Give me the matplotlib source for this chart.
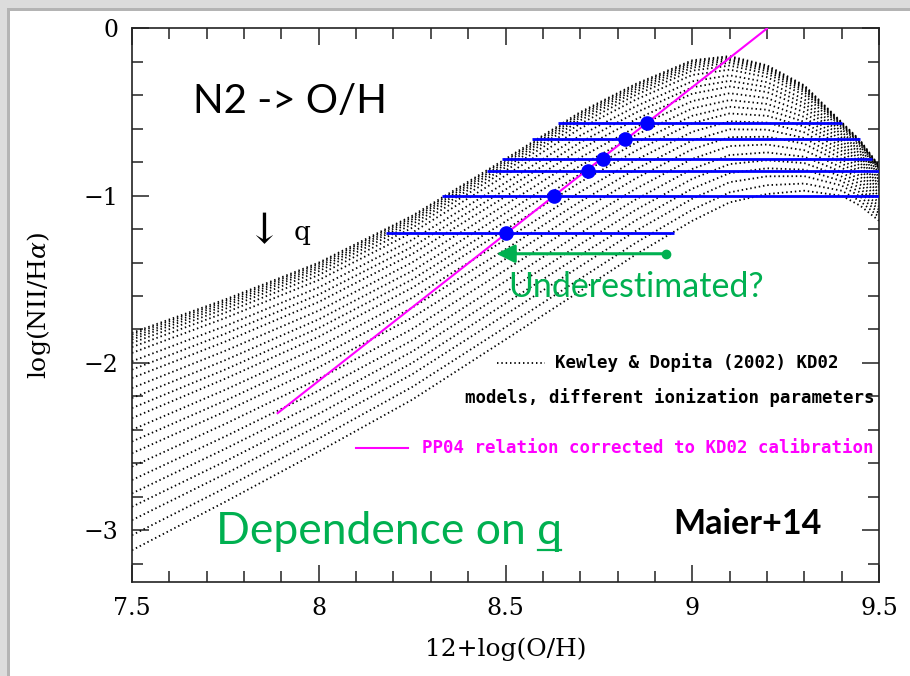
import matplotlib
matplotlib.use("Agg")
import matplotlib.pyplot as plt
from matplotlib.patches import Rectangle
from matplotlib.lines import Line2D
from matplotlib.ticker import MultipleLocator

# ---------------- data ----------------
oh_grid = [7.5, 7.75, 8.0, 8.25, 8.5, 8.7, 8.85, 9.0, 9.1, 9.2, 9.3, 9.4, 9.45, 9.5]

# KD02 model curves (one row per ionization parameter), log(NII/Ha) at oh_grid
kd02_models = [
    [-1.82, -1.62, -1.40, -1.12, -0.78, -0.50, -0.33, -0.19, -0.165, -0.22, -0.34, -0.56, -0.67, -0.82],
    [-1.83, -1.63, -1.409, -1.129, -0.789, -0.509, -0.338, -0.198, -0.172, -0.226, -0.345, -0.564, -0.673, -0.823],
    [-1.845, -1.643, -1.422, -1.141, -0.801, -0.520, -0.349, -0.208, -0.182, -0.235, -0.352, -0.568, -0.677, -0.826],
    [-1.86, -1.658, -1.435, -1.154, -0.814, -0.533, -0.362, -0.220, -0.192, -0.244, -0.360, -0.574, -0.682, -0.830],
    [-1.88, -1.676, -1.452, -1.171, -0.830, -0.549, -0.377, -0.234, -0.205, -0.255, -0.369, -0.580, -0.688, -0.835],
    [-1.905, -1.699, -1.474, -1.192, -0.850, -0.570, -0.396, -0.252, -0.222, -0.270, -0.381, -0.589, -0.695, -0.842],
    [-1.94, -1.731, -1.504, -1.221, -0.879, -0.598, -0.424, -0.278, -0.246, -0.291, -0.398, -0.601, -0.706, -0.850],
    [-1.99, -1.779, -1.548, -1.264, -0.922, -0.640, -0.464, -0.316, -0.280, -0.321, -0.423, -0.618, -0.721, -0.863],
    [-2.04, -1.825, -1.591, -1.306, -0.963, -0.681, -0.502, -0.352, -0.313, -0.350, -0.447, -0.634, -0.736, -0.876],
    [-2.09, -1.872, -1.635, -1.349, -1.005, -0.723, -0.542, -0.390, -0.347, -0.380, -0.471, -0.652, -0.751, -0.889],
    [-2.15, -1.927, -1.687, -1.399, -1.054, -0.772, -0.589, -0.434, -0.387, -0.416, -0.500, -0.672, -0.769, -0.904],
    [-2.21, -1.983, -1.739, -1.450, -1.104, -0.821, -0.636, -0.478, -0.428, -0.451, -0.529, -0.692, -0.787, -0.919],
    [-2.27, -2.039, -1.791, -1.501, -1.154, -0.870, -0.683, -0.522, -0.468, -0.486, -0.558, -0.712, -0.805, -0.934],
    [-2.33, -2.094, -1.843, -1.551, -1.203, -0.919, -0.730, -0.566, -0.508, -0.522, -0.587, -0.733, -0.823, -0.949],
    [-2.40, -2.160, -1.904, -1.611, -1.262, -0.977, -0.785, -0.618, -0.555, -0.563, -0.621, -0.756, -0.844, -0.967],
    [-2.47, -2.225, -1.965, -1.670, -1.320, -1.035, -0.840, -0.670, -0.603, -0.605, -0.655, -0.780, -0.865, -0.985],
    [-2.54, -2.290, -2.026, -1.729, -1.378, -1.093, -0.895, -0.722, -0.650, -0.647, -0.689, -0.804, -0.886, -1.003],
    [-2.62, -2.364, -2.095, -1.797, -1.444, -1.158, -0.957, -0.780, -0.703, -0.694, -0.728, -0.831, -0.910, -1.023],
    [-2.70, -2.439, -2.165, -1.865, -1.511, -1.224, -1.021, -0.840, -0.757, -0.741, -0.767, -0.858, -0.934, -1.043],
    [-2.78, -2.513, -2.234, -1.932, -1.577, -1.290, -1.083, -0.899, -0.811, -0.788, -0.805, -0.885, -0.958, -1.064],
    [-2.86, -2.588, -2.304, -2.000, -1.644, -1.356, -1.146, -0.958, -0.865, -0.836, -0.844, -0.912, -0.982, -1.084],
    [-2.94, -2.663, -2.374, -2.068, -1.711, -1.422, -1.209, -1.018, -0.919, -0.884, -0.883, -0.939, -1.006, -1.105],
    [-3.03, -2.747, -2.452, -2.144, -1.786, -1.496, -1.280, -1.084, -0.980, -0.937, -0.927, -0.970, -1.033, -1.127],
    [-3.12, -2.83, -2.53, -2.22, -1.86, -1.57, -1.35, -1.15, -1.04, -0.99, -0.97, -1.00, -1.06, -1.15],
]

# PP04 relation corrected to KD02 calibration
pp04_oh = [7.89, 9.20]
pp04_n2 = [-2.30, 0.0]

# binned N2 values, their PP04 O/H and the O/H range allowed by the models
bin_n2 = [-1.22, -1.00, -0.85, -0.78, -0.66, -0.564]
bin_oh = [8.50, 8.63, 8.72, 8.76, 8.82, 8.88]
bin_oh_min = [8.18, 8.33, 8.45, 8.49, 8.57, 8.64]
bin_oh_max = [8.95, 9.50, 9.50, 9.48, 9.45, 9.40]

# "Underestimated?" arrow
arrow_n2 = -1.347
arrow_oh_from = 8.93
arrow_oh_to = 8.476

GREEN = "#00B050"
BLUE = "#0000FF"
MAGENTA = "#FF00FF"

plt.rcParams["font.family"] = ["DejaVu Serif"]

fig = plt.figure(figsize=(9.1, 6.76), dpi=100)
fig.patch.set_facecolor("#dcdcdc")
W, H = 910.0, 676.0
fig.add_artist(Rectangle((7 / W, 0), 1, 1 - 8 / H, transform=fig.transFigure,
                         facecolor="#b4b4b4", edgecolor="none", zorder=0))
fig.add_artist(Rectangle((10 / W, 0), 1, 1 - 11 / H, transform=fig.transFigure,
                         facecolor="white", edgecolor="none", zorder=0))

ax = fig.add_axes([132 / W, 1 - 582 / H, 747 / W, 553.5 / H])
ax.set_facecolor("white")
ax.set_xlim(7.5, 9.5)
ax.set_ylim(-3.31, 0)

dot_style = (0, (0.8, 1.6))
for row in kd02_models:
    ax.plot(oh_grid, row, color="black", lw=1.3, ls=dot_style, zorder=2)

ax.plot(pp04_oh, pp04_n2, color=MAGENTA, lw=1.5, zorder=3)
ax.hlines(bin_n2, bin_oh_min, bin_oh_max, colors=BLUE, lw=2.0, zorder=4)
ax.plot(bin_oh, bin_n2, "o", color=BLUE, markersize=9.5, zorder=5)

ax.annotate("", xy=(arrow_oh_to, arrow_n2), xytext=(arrow_oh_from, arrow_n2),
            arrowprops=dict(arrowstyle="-|>,head_length=0.5,head_width=0.25",
                            color=GREEN, lw=2.2, mutation_scale=22,
                            shrinkA=0, shrinkB=0), zorder=6)
ax.plot([arrow_oh_from], [arrow_n2], "o", color=GREEN, markersize=6, zorder=6)

# ticks
ax.xaxis.set_major_locator(MultipleLocator(0.5))
ax.xaxis.set_minor_locator(MultipleLocator(0.1))
ax.yaxis.set_major_locator(MultipleLocator(1.0))
ax.yaxis.set_minor_locator(MultipleLocator(0.2))
ax.tick_params(which="both", direction="in", top=True, right=True, width=1.1,
               color="#222222")
ax.tick_params(which="major", length=12.5)
ax.tick_params(which="minor", length=8)
ax.tick_params(axis="x", which="major", labelsize=17, pad=11)
ax.tick_params(axis="y", which="major", labelsize=17, pad=10)
ax.set_xticks([7.5, 8, 8.5, 9, 9.5])
ax.set_xticklabels(["7.5", "8", "8.5", "9", "9.5"])
ax.set_yticks([0, -1, -2, -3])
ax.set_yticklabels(["0", "\u22121", "\u22122", "\u22123"])
for s in ax.spines.values():
    s.set_linewidth(1.2)
    s.set_color("#222222")

ax.set_xlabel("12+log(O/H)", fontsize=18)
ax.xaxis.set_label_coords(0.5, -(637 - 582) / 553.5)
ax.set_ylabel(r"log(NII/H$\alpha$)", fontsize=18)
ax.yaxis.label.set_math_fontfamily("dejavuserif")
ax.yaxis.set_label_coords((53 - 132) / 747.0, 0.5)

# legend-like annotations
mono = "DejaVu Sans Mono"
ax.plot([8.477, 8.606], [-2.0, -2.0], color="black", lw=1.3, ls=dot_style)
ax.text(8.633, -2.0, "Kewley & Dopita (2002) KD02", family=mono, weight="bold",
        fontsize=12.5, va="center", ha="left", color="black")
ax.text(8.392, -2.209, "models, different ionization parameters", family=mono,
        weight="bold", fontsize=12.5, va="center", ha="left", color="black")
ax.plot([8.100, 8.239], [-2.506, -2.506], color=MAGENTA, lw=1.5)
ax.text(8.276, -2.506, "PP04 relation corrected to KD02 calibration", family=mono,
        weight="bold", fontsize=12.5, va="center", ha="left", color=MAGENTA)

# slide annotations
ax.text(7.663, -0.505, "N2 -> O/H", family="Lato", fontsize=29, color="black",
        va="baseline", ha="left")
ax.text(7.853, -1.21, "\u2193", family="DejaVu Serif", fontsize=30, color="black",
        va="center", ha="center")
ax.text(7.955, -1.22, "q", family="DejaVu Serif", fontsize=19, color="black",
        va="center", ha="center")
ax.text(8.507, -1.605, "Underestimated?", family="Lato", fontsize=24.5,
        color=GREEN, va="baseline", ha="left", zorder=7)
dep_x, dep_y = 7.725, -3.08
t_dep = ax.text(dep_x, dep_y, "Dependence on q", family="Lato", fontsize=32,
                color=GREEN, va="baseline", ha="left")
ax.text(9.147, -3.021, "Maier+14", family="Lato", weight="bold", fontsize=24.5,
        color="black", va="baseline", ha="center")

# underline the q of "Dependence on q"
fig.canvas.draw()
r = fig.canvas.get_renderer()
bb = t_dep.get_window_extent(r)
tq = ax.text(0, 0, "q", family="Lato", fontsize=32)
wq = tq.get_window_extent(r).width
tq.remove()
base = ax.transData.transform((dep_x, dep_y))[1]
inv = fig.transFigure.inverted()
p0 = inv.transform((bb.x1 - wq + 1, base - 6))
p1 = inv.transform((bb.x1 - 1, base - 6))
fig.add_artist(Line2D([p0[0], p1[0]], [p0[1], p1[1]], transform=fig.transFigure,
                      color=GREEN, lw=1.6))

fig.savefig("out.png", dpi=100, facecolor=fig.get_facecolor())
